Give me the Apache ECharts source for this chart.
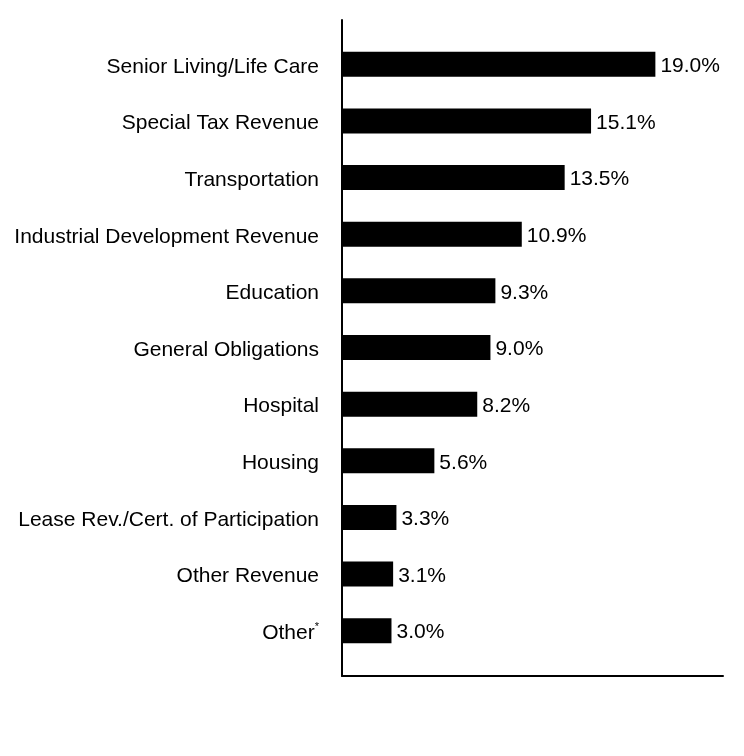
<!DOCTYPE html>
<html>
<head>
<meta charset="utf-8">
<script src="https://cdn.jsdelivr.net/npm/echarts@6/dist/echarts.min.js"></script>
<style>
  html, body { margin: 0; padding: 0; background: #fff; }
  #chart-container { width: 744px; height: 756px; }
</style>
</head>
<body>
<div id="chart-container"></div>
<script>
var categories = [
  'Senior Living/Life Care',
  'Special Tax Revenue',
  'Transportation',
  'Industrial Development Revenue',
  'Education',
  'General Obligations',
  'Hospital',
  'Housing',
  'Lease Rev./Cert. of Participation',
  'Other Revenue',
  'Other*'
];
var values = [19.0, 15.1, 13.5, 10.9, 9.3, 9.0, 8.2, 5.6, 3.3, 3.1, 3.0];

var dom = document.getElementById('chart-container');
var myChart = echarts.init(dom, null, {
  renderer: 'canvas',
  useDirtyRect: false
});

var font = 'Liberation Sans, Arial, sans-serif';

var option = {
  animation: false,
  grid: [
    // bars
    { left: 342, right: 21, top: 36, bottom: 97 },
    // frame (axis lines only)
    { left: 342, right: 21, top: 20, bottom: 80 }
  ],
  xAxis: [
    {
      gridIndex: 0,
      type: 'value',
      min: 0,
      max: 23.1,
      show: false
    },
    {
      gridIndex: 1,
      type: 'value',
      min: 0,
      max: 1,
      axisLine: { show: true, lineStyle: { color: '#000', width: 2 } },
      axisTick: { show: false },
      axisLabel: { show: false },
      splitLine: { show: false }
    }
  ],
  yAxis: [
    {
      gridIndex: 0,
      type: 'category',
      inverse: true,
      data: categories,
      axisLine: { show: false },
      axisTick: { show: false },
      axisLabel: {
        margin: 23,
        color: '#000',
        fontSize: 21,
        fontFamily: font,
        padding: [5, 0, 0, 0],
        formatter: function (v) {
          if (v.slice(-1) === '*') {
            return v.slice(0, -1) + '{sup|*}';
          }
          return v;
        },
        rich: {
          sup: {
            fontSize: 11,
            fontFamily: font,
            color: '#000',
            verticalAlign: 'top',
            padding: [0, 0, 12, 0]
          }
        }
      }
    },
    {
      gridIndex: 1,
      type: 'value',
      min: 0,
      max: 1,
      axisLine: { show: true, lineStyle: { color: '#000', width: 2 } },
      axisTick: { show: false },
      axisLabel: { show: false },
      splitLine: { show: false }
    }
  ],
  series: [
    {
      type: 'bar',
      xAxisIndex: 0,
      yAxisIndex: 0,
      data: values,
      barWidth: 25,
      itemStyle: { color: '#000' },
      label: {
        show: true,
        position: 'right',
        distance: 5,
        offset: [0, 2],
        color: '#000',
        fontSize: 21,
        fontFamily: font,
        formatter: function (p) {
          return p.value.toFixed(1) + '%';
        }
      }
    }
  ]
};

if (option && typeof option === 'object') {
  myChart.setOption(option);
}

window.addEventListener('resize', myChart.resize);
</script>
</body>
</html>
